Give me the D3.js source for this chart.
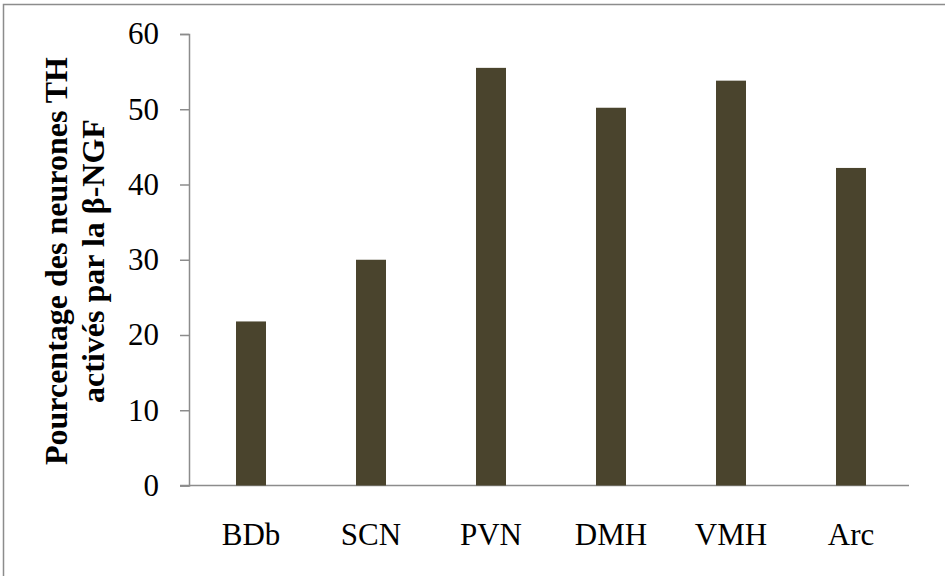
<!DOCTYPE html>
<html>
<head>
<meta charset="utf-8">
<script src="https://cdn.jsdelivr.net/npm/d3@7"></script>
<style>
  body { margin: 0; background: #fff; }
  text { font-family: "Liberation Serif", "Times New Roman", serif; }
</style>
</head>
<body>
<div id="chart"></div>
<script>
const regions = ['BDb', 'SCN', 'PVN', 'DMH', 'VMH', 'Arc'];
const percentActive = [21.8, 30.0, 55.5, 50.2, 53.8, 42.2];
const yTicks = [0, 10, 20, 30, 40, 50, 60];
const titleLines = ['Pourcentage des neurones TH', 'activés par la β-NGF'];

const width = 945;
const height = 576;
const plotLeft = 189, plotRight = 909, plotTop = 34, plotBottom = 485.5;

const svg = d3.select('#chart')
  .append('svg')
  .attr('width', width)
  .attr('height', height);

// outer frame (right/bottom edges fall outside the picture)
svg.append('rect')
  .attr('x', 3.5)
  .attr('y', 4.5)
  .attr('width', 960)
  .attr('height', 600)
  .attr('fill', 'none')
  .attr('stroke', '#8c8c8c')
  .attr('stroke-width', 1.5);

const x = d3.scaleBand()
  .domain(regions)
  .range([plotLeft + 2, plotRight + 2]);

const y = d3.scaleLinear()
  .domain([0, 60])
  .range([plotBottom, plotTop]);

// y axis
const yAxis = svg.append('g')
  .attr('transform', 'translate(' + plotLeft + ',0)')
  .call(d3.axisLeft(y).tickValues(yTicks).tickSize(9).tickPadding(21).tickFormat(d3.format('d')));
yAxis.select('.domain').attr('stroke', '#8c8c8c').attr('stroke-width', 1.5);
yAxis.selectAll('.tick line').attr('stroke', '#8c8c8c').attr('stroke-width', 1.5);
yAxis.selectAll('text')
  .attr('fill', '#000')
  .style('font-size', '31px')
  .style('font-family', '"Liberation Serif", "Times New Roman", serif');

// x axis line
svg.append('line')
  .attr('x1', plotLeft - 9)
  .attr('x2', plotRight)
  .attr('y1', y(0))
  .attr('y2', y(0))
  .attr('stroke', '#8c8c8c')
  .attr('stroke-width', 1.5);

// bars
svg.selectAll('.bar')
  .data(regions)
  .enter()
  .append('rect')
  .attr('class', 'bar')
  .attr('x', (d) => x(d) + x.bandwidth() / 2 - 15)
  .attr('y', (d, i) => y(percentActive[i]))
  .attr('width', 30)
  .attr('height', (d, i) => y(0) - y(percentActive[i]))
  .attr('fill', '#4a442d');

// category labels
svg.selectAll('.cat')
  .data(regions)
  .enter()
  .append('text')
  .attr('class', 'cat')
  .attr('x', (d) => x(d) + x.bandwidth() / 2)
  .attr('y', 545)
  .attr('text-anchor', 'middle')
  .style('font-size', '31px')
  .text((d) => d);

// y title, two lines
svg.append('g')
  .attr('transform', 'translate(0,261)rotate(-90)')
  .selectAll('text')
  .data(titleLines)
  .enter()
  .append('text')
  .attr('x', 0)
  .attr('y', (d, i) => i === 0 ? 67 : 104)
  .attr('text-anchor', 'middle')
  .style('font-size', '32px')
  .style('font-weight', 'bold')
  .text((d) => d);
</script>
</body>
</html>
